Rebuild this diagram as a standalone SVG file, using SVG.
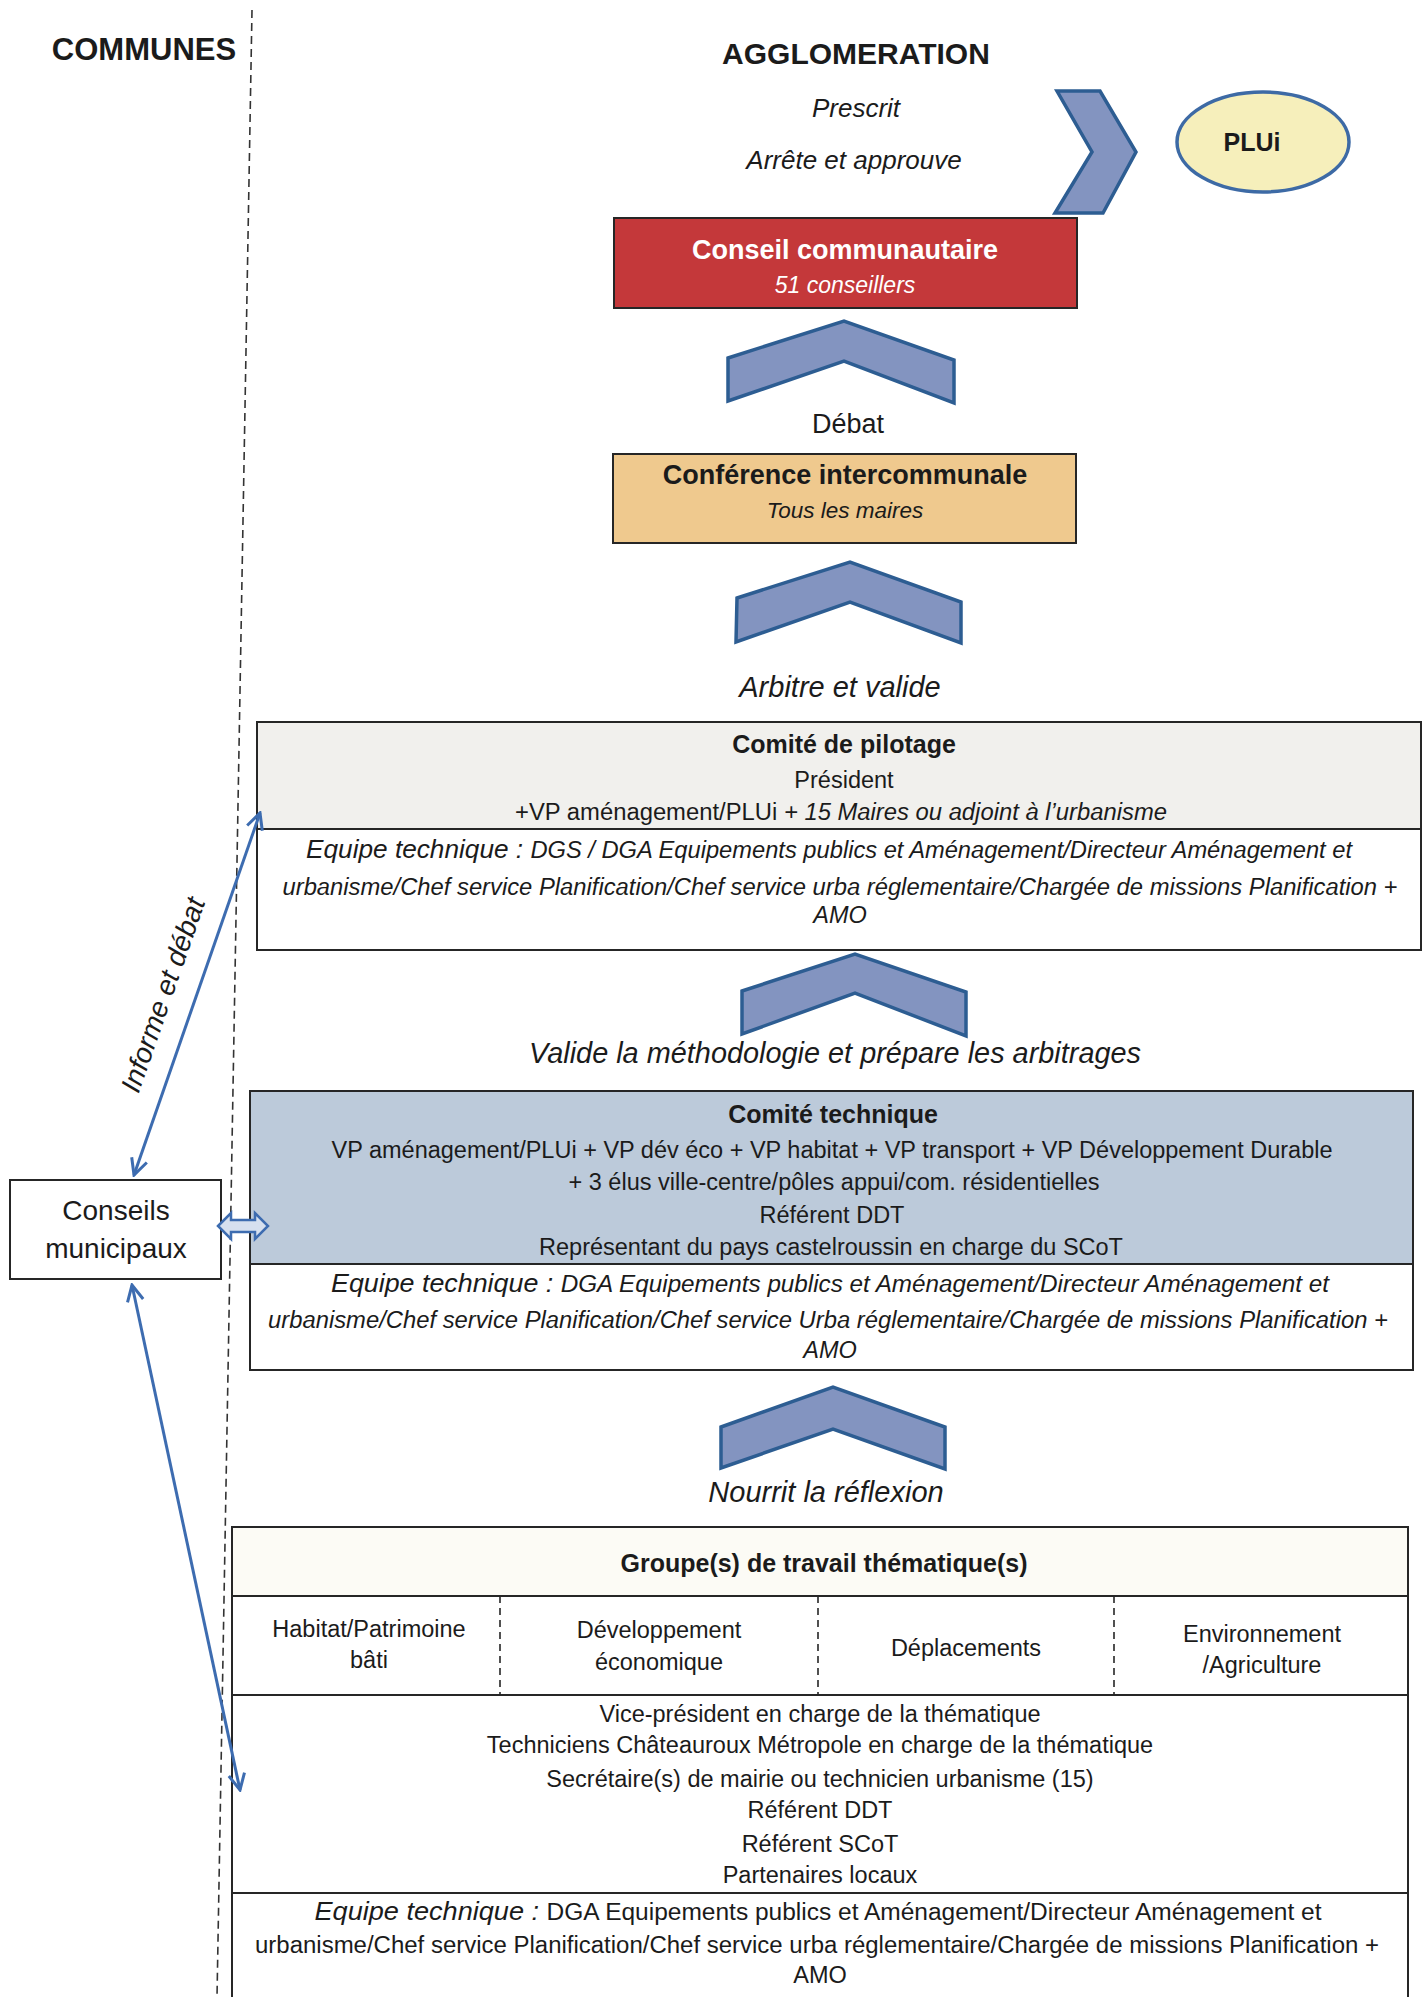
<svg xmlns="http://www.w3.org/2000/svg" width="1423" height="1997" viewBox="0 0 1423 1997">
<defs>
<style>
text{font-family:"Liberation Sans",Arial,sans-serif;fill:#1b1b1b}
.h{font-weight:bold;text-anchor:middle}
.lbl{font-style:italic;font-size:29px;text-anchor:middle}
.t{font-size:23.5px;text-anchor:middle}
.b{font-weight:bold;font-size:25px;text-anchor:middle}
.i{font-style:italic}
.eq{font-style:italic;font-size:26px}
.box{stroke:#262626;stroke-width:2}
.chev{fill:#8394c0;stroke:#2d5d92;stroke-width:3.5;stroke-linejoin:miter}
.con{fill:none;stroke:#3d6cb0;stroke-width:3}
.sep{stroke:#262626;stroke-width:1.6;stroke-dasharray:7 5}
</style>
<marker id="ah" viewBox="0 0 20 20" refX="18" refY="10" markerWidth="20" markerHeight="20" markerUnits="userSpaceOnUse" orient="auto-start-reverse">
<path d="M2,2 L18,10 L2,18" fill="none" stroke="#3d6cb0" stroke-width="3"/>
</marker>
</defs>
<rect x="0" y="0" width="1423" height="1997" fill="#ffffff"/>

<line x1="252" y1="10" x2="217" y2="1997" stroke="#333" stroke-width="1.6" stroke-dasharray="8 5"/>

<text class="h" x="144" y="60" font-size="31">COMMUNES</text>
<text class="h" x="856" y="64" font-size="30">AGGLOMERATION</text>
<text class="i" x="856" y="117" font-size="26" text-anchor="middle">Prescrit</text>
<text class="i" x="854" y="169" font-size="26" text-anchor="middle">Arrête et approuve</text>

<g id="plui">
<ellipse cx="1263" cy="142" rx="86" ry="50" fill="#f6efbb" stroke="#3d6aa5" stroke-width="3.5"/>
<text class="h" x="1252" y="151" font-size="25">PLUi</text>
</g>

<g id="conseil-communautaire">
<rect class="box" x="614" y="218" width="463" height="90" fill="#c4383a"/>
<text class="h" x="845" y="259" font-size="27" style="fill:#ffffff">Conseil communautaire</text>
<text class="i" x="845" y="293" font-size="23" text-anchor="middle" style="fill:#ffffff">51 conseillers</text>
</g>

<text x="848" y="433" font-size="27" text-anchor="middle">Débat</text>

<g id="conference-intercommunale">
<rect class="box" x="613" y="454" width="463" height="89" fill="#efc98e"/>
<text class="h" x="845" y="484" font-size="27">Conférence intercommunale</text>
<text class="i" x="845" y="518" font-size="22.5" text-anchor="middle">Tous les maires</text>
</g>

<text class="lbl" x="840" y="697">Arbitre et valide</text>

<g id="comite-pilotage">
<rect x="257" y="722" width="1164" height="107" fill="#f1f0ed"/>
<rect class="box" x="257" y="722" width="1164" height="228" fill="none"/>
<line class="box" x1="257" y1="829" x2="1421" y2="829"/>
<text class="b" x="844" y="753">Comité de pilotage</text>
<text class="t" x="844" y="788" font-size="23">Président</text>
<text class="t" x="841" y="820" textLength="652" lengthAdjust="spacingAndGlyphs">+VP aménagement/PLUi<tspan class="i"> + 15 Maires ou adjoint à l’urbanisme</tspan></text>
<text class="t i" x="829" y="858" textLength="1046" lengthAdjust="spacingAndGlyphs"><tspan class="eq">Equipe technique : </tspan>DGS / DGA Equipements publics et Aménagement/Directeur Aménagement et</text>
<text class="t i" x="840" y="895" textLength="1115" lengthAdjust="spacingAndGlyphs">urbanisme/Chef service Planification/Chef service urba réglementaire/Chargée de missions Planification +</text>
<text class="t i" x="840" y="923">AMO</text>
</g>

<text class="lbl" x="835" y="1063" textLength="612" lengthAdjust="spacingAndGlyphs">Valide la méthodologie et prépare les arbitrages</text>

<g id="comite-technique">
<rect x="250" y="1091" width="1163" height="173" fill="#bccada"/>
<rect class="box" x="250" y="1091" width="1163" height="279" fill="none"/>
<line class="box" x1="250" y1="1264" x2="1413" y2="1264"/>
<text class="b" x="833" y="1123">Comité technique</text>
<text class="t" x="832" y="1158" textLength="1001" lengthAdjust="spacingAndGlyphs">VP aménagement/PLUi + VP dév éco + VP habitat + VP transport + VP Développement Durable</text>
<text class="t" x="834" y="1190">+ 3 élus ville-centre/pôles appui/com. résidentielles</text>
<text class="t" x="832" y="1223">Référent DDT</text>
<text class="t" x="831" y="1255">Représentant du pays castelroussin en charge du SCoT</text>
<text class="t i" x="830" y="1292" textLength="998" lengthAdjust="spacingAndGlyphs"><tspan class="eq">Equipe technique : </tspan>DGA Equipements publics et Aménagement/Directeur Aménagement et</text>
<text class="t i" x="828" y="1328" textLength="1120" lengthAdjust="spacingAndGlyphs">urbanisme/Chef service Planification/Chef service Urba réglementaire/Chargée de missions Planification +</text>
<text class="t i" x="830" y="1358">AMO</text>
</g>

<text class="lbl" x="826" y="1502">Nourrit la réflexion</text>

<g id="groupes-travail">
<rect x="232" y="1527" width="1176" height="69" fill="#fcfbf5"/>
<rect class="box" x="232" y="1527" width="1176" height="472" fill="none"/>
<line class="box" x1="232" y1="1596" x2="1408" y2="1596"/>
<line class="box" x1="232" y1="1695" x2="1408" y2="1695"/>
<line class="box" x1="232" y1="1893" x2="1408" y2="1893"/>
<line class="sep" x1="500" y1="1596" x2="500" y2="1695"/>
<line class="sep" x1="818" y1="1596" x2="818" y2="1695"/>
<line class="sep" x1="1114" y1="1596" x2="1114" y2="1695"/>
<text class="b" x="824" y="1572">Groupe(s) de travail thématique(s)</text>
<text class="t" x="369" y="1637" font-size="24.5">Habitat/Patrimoine</text>
<text class="t" x="369" y="1668" font-size="24.5">bâti</text>
<text class="t" x="659" y="1638" font-size="24.5">Développement</text>
<text class="t" x="659" y="1670" font-size="24.5">économique</text>
<text class="t" x="966" y="1656" font-size="24.5">Déplacements</text>
<text class="t" x="1262" y="1642" font-size="24.5">Environnement</text>
<text class="t" x="1262" y="1673" font-size="24.5">/Agriculture</text>
<text class="t" x="820" y="1722">Vice-président en charge de la thématique</text>
<text class="t" x="820" y="1753">Techniciens Châteauroux Métropole en charge de la thématique</text>
<text class="t" x="820" y="1787">Secrétaire(s) de mairie ou technicien urbanisme (15)</text>
<text class="t" x="820" y="1818">Référent DDT</text>
<text class="t" x="820" y="1852">Référent SCoT</text>
<text class="t" x="820" y="1883">Partenaires locaux</text>
<text class="t" x="818" y="1920" textLength="1007" lengthAdjust="spacingAndGlyphs"><tspan class="eq">Equipe technique : </tspan>DGA Equipements publics et Aménagement/Directeur Aménagement et</text>
<text class="t" x="817" y="1953" textLength="1124" lengthAdjust="spacingAndGlyphs">urbanisme/Chef service Planification/Chef service urba réglementaire/Chargée de missions Planification +</text>
<text class="t" x="820" y="1983">AMO</text>
</g>

<g id="conseils-municipaux">
<rect class="box" x="10" y="1180" width="211" height="99" fill="#ffffff" stroke-width="2.5"/>
<text x="116" y="1220" font-size="28" text-anchor="middle">Conseils</text>
<text x="116" y="1258" font-size="28" text-anchor="middle">municipaux</text>
</g>

<g id="connectors">
<path class="chev" d="M1057,91 L1100,91 L1136,152 L1103,213 L1055,213 L1092,152 Z"/>
<path class="chev" d="M728,358 L844,321 L954,360 L954,403 L844,361 L728,401 Z"/>
<path class="chev" d="M737,598 L850,562 L961,602 L961,643 L850,602 L736,642 Z"/>
<path class="chev" d="M742,991 L855,954 L966,992 L966,1036 L855,993 L742,1034 Z"/>
<path class="chev" d="M721,1427 L833,1387 L945,1427 L945,1469 L833,1429 L721,1468 Z"/>
<line class="con" x1="134" y1="1175" x2="260" y2="813" marker-start="url(#ah)" marker-end="url(#ah)"/>
<text class="i" font-size="28" text-anchor="middle" transform="translate(172,998) rotate(-70.8)">Informe et débat</text>
<line class="con" x1="132" y1="1285" x2="240" y2="1790" marker-start="url(#ah)" marker-end="url(#ah)"/>
<path d="M218,1226 L231,1213 L231,1220 L255,1220 L255,1213 L268,1226 L255,1239 L255,1232 L231,1232 L231,1239 Z" fill="#d6e0ef" stroke="#3d6cb0" stroke-width="2.5" stroke-linejoin="miter"/>
</g>
</svg>
